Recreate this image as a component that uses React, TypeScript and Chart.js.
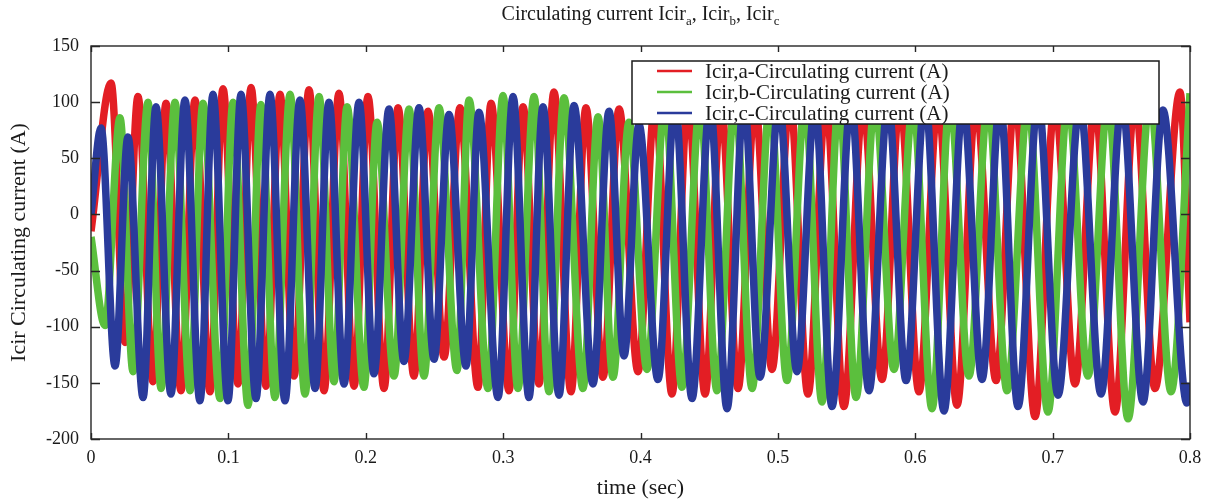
import React, { useEffect, useRef } from "react";
import { Chart, registerables } from "chart.js";

Chart.register(...registerables);

const FONT = '"Liberation Serif", "Times New Roman", serif';

const xTicks = [0, 0.1, 0.2, 0.3, 0.4, 0.5, 0.6, 0.7, 0.8];
const yTicks = [150, 100, 50, 0, -50, -100, -150, -200];

const titleParts = [
  ["Circulating current Icir", "a"],
  [", Icir", "b"],
  [", Icir", "c"],
];
const xAxisLabel = "time (sec)";
const yAxisLabel = "Icir Circulating current (A)";

const seriesLabels = [
  "Icir,a-Circulating current (A)",
  "Icir,b-Circulating current (A)",
  "Icir,c-Circulating current (A)",
];
const seriesColors = ["#e31e24", "#5bbf3d", "#2a3b9b"];

// Phase a (red): extrema (time in s, current in A)
const redTime = [
  0, 0.0146, 0.0248, 0.0342, 0.0451, 0.0546, 0.0655, 0.0757, 0.0866, 0.0961,
  0.107, 0.1165, 0.1274, 0.1376, 0.1478, 0.1587, 0.1696, 0.1805, 0.1915, 0.2016,
  0.2133, 0.2235, 0.2351, 0.2453, 0.257, 0.2686, 0.2817, 0.2912, 0.3043, 0.3145,
  0.3261, 0.337, 0.3494, 0.3603, 0.3727, 0.3844, 0.3982, 0.4106, 0.4229, 0.4346,
  0.447, 0.4586, 0.471, 0.4834, 0.4957, 0.5088, 0.5219, 0.535, 0.5481, 0.562,
  0.5758, 0.5889, 0.6027, 0.6166, 0.6304, 0.6442, 0.6588, 0.6726, 0.6872, 0.7017,
  0.7163, 0.7308, 0.7454, 0.76, 0.7745, 0.7927, 0.8,
];
const redCurrent = [
  -15, 117, -114, 105, -149, 99, -157, 102, -158, 112,
  -151, 113, -153, 107, -144, 111, -157, 108, -153, 105,
  -155, 95, -144, 92, -127, 95, -154, 99, -157, 96,
  -151, 109, -158, 95, -145, 94, -140, 100, -160, 102,
  -160, 98, -155, 100, -138, 103, -160, 100, -171, 98,
  -147, 102, -158, 100, -170, 99, -148, 103, -180, 100,
  -151, 98, -176, 102, -155, 109, -96,
];

// Phase b (green)
const greenTime = [
  0, 0.0102, 0.0211, 0.0306, 0.0415, 0.051, 0.0611, 0.0721, 0.0815, 0.0939,
  0.1034, 0.1143, 0.1237, 0.1339, 0.1449, 0.1558, 0.166, 0.1769, 0.1864, 0.1987,
  0.2082, 0.2206, 0.2315, 0.2424, 0.2533, 0.2664, 0.2752, 0.289, 0.2999, 0.3108,
  0.3225, 0.3334, 0.3443, 0.3581, 0.3691, 0.38, 0.3916, 0.4047, 0.4178, 0.4302,
  0.4433, 0.4557, 0.4688, 0.4812, 0.4943, 0.5066, 0.5197, 0.5321, 0.5445, 0.5569,
  0.5707, 0.5845, 0.5984, 0.6122, 0.6253, 0.6391, 0.653, 0.6668, 0.6821, 0.6966,
  0.7112, 0.7257, 0.7403, 0.7549, 0.7709, 0.7862, 0.8,
];
const greenCurrent = [
  -20, -99, 86, -140, 100, -155, 100, -157, 99, -164,
  100, -170, 98, -163, 107, -160, 105, -149, 96, -154,
  82, -144, 94, -144, 95, -139, 102, -155, 106, -155,
  105, -158, 104, -155, 87, -145, 82, -138, 100, -154,
  98, -157, 102, -155, 100, -148, 99, -167, 101, -163,
  100, -138, 98, -173, 102, -144, 100, -157, 99, -176,
  101, -144, 100, -182, 103, -158, 108,
];

// Phase c (blue)
const blueTime = [
  0, 0.0073, 0.0175, 0.0269, 0.0379, 0.0473, 0.0582, 0.0684, 0.0793, 0.0888,
  0.0997, 0.1092, 0.1201, 0.1303, 0.1412, 0.1521, 0.1631, 0.1732, 0.1842, 0.1951,
  0.206, 0.2169, 0.2278, 0.2388, 0.2497, 0.2606, 0.273, 0.2824, 0.2963, 0.3072,
  0.3188, 0.329, 0.3407, 0.3516, 0.3654, 0.3771, 0.388, 0.3989, 0.4127, 0.4251,
  0.4375, 0.4506, 0.463, 0.4753, 0.487, 0.5008, 0.5139, 0.527, 0.5394, 0.5532,
  0.5663, 0.5802, 0.5933, 0.6071, 0.6209, 0.6348, 0.6486, 0.6617, 0.6748, 0.6894,
  0.7039, 0.7199, 0.7352, 0.7505, 0.7658, 0.7803, 0.7978, 0.8,
];
const blueCurrent = [
  0, 77, -135, 69, -163, 96, -160, 102, -166, 107,
  -166, 107, -164, 107, -166, 102, -155, 100, -151, 100,
  -142, 94, -131, 95, -129, 89, -135, 91, -163, 105,
  -163, 96, -161, 97, -151, 92, -126, 80, -147, 100,
  -164, 99, -173, 102, -145, 100, -140, 98, -171, 101,
  -157, 100, -148, 103, -175, 99, -147, 100, -171, 102,
  -161, 98, -160, 100, -167, 93, -168, -150,
];

const seriesTimes = [redTime, greenTime, blueTime];
const seriesCurrents = [redCurrent, greenCurrent, blueCurrent];

const framePlugin = {
  id: "frame",
  afterDraw(chart: any) {
    const { ctx, chartArea: a, scales } = chart;
    ctx.save();
    ctx.strokeStyle = "#262626";
    ctx.lineWidth = 1.4;
    ctx.strokeRect(a.left, a.top, a.right - a.left, a.bottom - a.top);
    ctx.beginPath();
    for (const v of xTicks) {
      const px = Math.round(scales.x.getPixelForValue(v)) + 0.5;
      ctx.moveTo(px, a.bottom);
      ctx.lineTo(px, a.bottom - 6);
      ctx.moveTo(px, a.top);
      ctx.lineTo(px, a.top + 6);
    }
    for (const v of yTicks) {
      const py = Math.round(scales.y.getPixelForValue(v)) + 0.5;
      ctx.moveTo(a.left, py);
      ctx.lineTo(a.left + 9, py);
      ctx.moveTo(a.right, py);
      ctx.lineTo(a.right - 9, py);
    }
    ctx.stroke();
    ctx.restore();
  },
};

const textPlugin = {
  id: "texts",
  afterDraw(chart: any) {
    const { ctx, chartArea: a } = chart;
    ctx.save();
    ctx.fillStyle = "#1a1a1a";
    // title with subscripts
    const mainFont = `20px ${FONT}`;
    const subFont = `13px ${FONT}`;
    let total = 0;
    for (const [m, s] of titleParts) {
      ctx.font = mainFont;
      total += ctx.measureText(m).width;
      ctx.font = subFont;
      total += ctx.measureText(s).width;
    }
    let x = (a.left + a.right) / 2 - total / 2;
    const ty = 20;
    ctx.textBaseline = "alphabetic";
    ctx.textAlign = "left";
    for (const [m, s] of titleParts) {
      ctx.font = mainFont;
      ctx.fillText(m, x, ty);
      x += ctx.measureText(m).width;
      ctx.font = subFont;
      ctx.fillText(s, x, ty + 5);
      x += ctx.measureText(s).width;
    }
    // x axis label
    ctx.font = `22px ${FONT}`;
    ctx.textAlign = "center";
    ctx.textBaseline = "middle";
    ctx.fillText(xAxisLabel, (a.left + a.right) / 2, 488);
    // y axis label
    ctx.translate(19, (a.top + a.bottom) / 2);
    ctx.rotate(-Math.PI / 2);
    ctx.fillText(yAxisLabel, 0, 0);
    ctx.restore();
  },
};

const legendPlugin = {
  id: "boxLegend",
  afterDatasetsDraw(chart: any) {
    const { ctx } = chart;
    const bx = 632, by = 61, bw = 527, bh = 63;
    ctx.save();
    ctx.fillStyle = "#ffffff";
    ctx.fillRect(bx, by, bw, bh);
    ctx.strokeStyle = "#1a1a1a";
    ctx.lineWidth = 1.5;
    ctx.strokeRect(bx, by, bw, bh);
    const rows = [71, 92, 113];
    ctx.font = `21px ${FONT}`;
    ctx.textAlign = "left";
    ctx.textBaseline = "middle";
    seriesLabels.forEach((lab, i) => {
      ctx.strokeStyle = seriesColors[i];
      ctx.lineWidth = 2.5;
      ctx.beginPath();
      ctx.moveTo(657, rows[i]);
      ctx.lineTo(692, rows[i]);
      ctx.stroke();
      ctx.fillStyle = "#1a1a1a";
      ctx.fillText(lab, 705, rows[i] + 1);
    });
    ctx.restore();
  },
};

export default function App() {
  const ref = useRef<HTMLCanvasElement>(null);

  useEffect(() => {
    if (!ref.current) return;
    const orders = [3, 2, 1];
    const chart = new Chart(ref.current, {
      type: "line",
      data: {
        datasets: seriesLabels.map((label, i) => ({
          label,
          data: seriesTimes[i].map((t, k) => ({ x: t, y: seriesCurrents[i][k] })),
          borderColor: seriesColors[i],
          backgroundColor: seriesColors[i],
          borderWidth: 7.5,
          pointRadius: 0,
          fill: false,
          cubicInterpolationMode: "monotone",
          clip: 0,
          order: orders[i],
        })),
      },
      options: {
        animation: false,
        responsive: true,
        maintainAspectRatio: false,
        events: [],
        layout: { padding: { top: 46, right: 25, left: 0, bottom: 0 } },
        plugins: {
          legend: { display: false },
          title: { display: false },
          tooltip: { enabled: false },
        },
        scales: {
          x: {
            type: "linear",
            min: 0,
            max: 0.8,
            afterFit: (s: any) => {
              s.height = 65;
            },
            afterBuildTicks: (s: any) => {
              s.ticks = xTicks.map((v) => ({ value: v }));
            },
            grid: { display: false, drawTicks: false },
            border: { display: false },
            ticks: {
              padding: 8,
              autoSkip: false,
              maxRotation: 0,
              color: "#1a1a1a",
              font: { family: FONT, size: 18 },
              callback: (v: any) => String(v),
            },
          },
          y: {
            type: "linear",
            min: -200,
            max: 150,
            afterFit: (s: any) => {
              s.width = 91;
            },
            afterBuildTicks: (s: any) => {
              s.ticks = yTicks.map((v) => ({ value: v }));
            },
            grid: { display: false, drawTicks: false },
            border: { display: false },
            ticks: {
              padding: 12,
              autoSkip: false,
              color: "#1a1a1a",
              font: { family: FONT, size: 18 },
              callback: (v: any) => String(v),
            },
          },
        },
      },
      plugins: [legendPlugin, framePlugin, textPlugin],
    } as any);
    return () => chart.destroy();
  }, []);

  return (
    <div
      style={{
        position: "fixed",
        left: 0,
        top: 0,
        width: 1215,
        height: 504,
        background: "#ffffff",
      }}
    >
      <canvas ref={ref} />
    </div>
  );
}
